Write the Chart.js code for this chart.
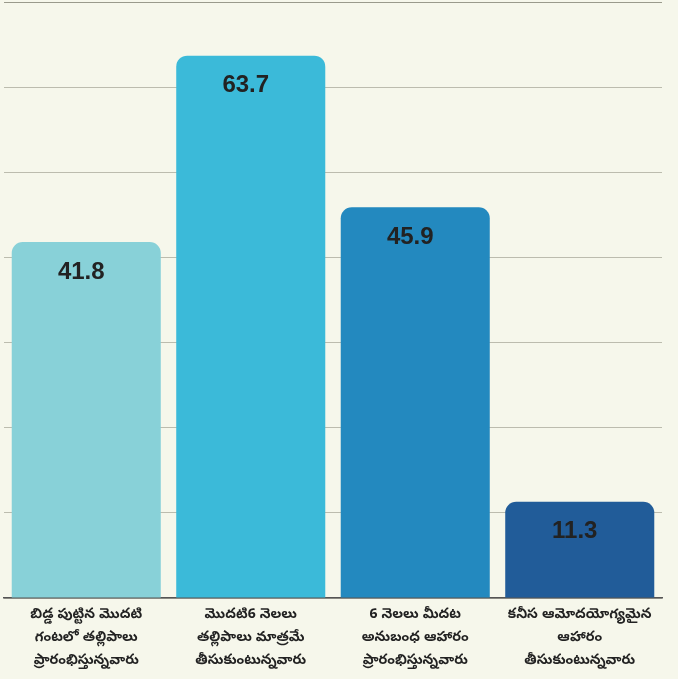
<!DOCTYPE html>
<html>
<head>
<meta charset="utf-8">
<script src="https://cdn.jsdelivr.net/npm/chart.js@4"></script>
<style>
  html, body { margin: 0; padding: 0; background: #f6f7eb; }
  #wrap { width: 678px; height: 679px; }
</style>
</head>
<body>
<div id="wrap"><canvas id="chart"></canvas></div>
<script>
// ── Data ──────────────────────────────────────────────────────────────────────
const categories = [
  ["బిడ్డ పుట్టిన మొదటి", "గంటలో తల్లిపాలు", "ప్రారంభిస్తున్నవారు"],
  ["మొదటి6 నెలలు", "తల్లిపాలు మాత్రమే", "తీసుకుంటున్నవారు"],
  ["6 నెలలు మీదట", "అనుబంధ ఆహారం", "ప్రారంభిస్తున్నవారు"],
  ["కనీస ఆమోదయోగ్యమైన", "ఆహారం", "తీసుకుంటున్నవారు"],
];
const values = [41.8, 63.7, 45.9, 11.3];
const barColors = ["#88d1d8", "#3bbad9", "#2389bf", "#215c99"];
const yTicks = [0, 10, 20, 30, 40, 50, 60, 70];

// ── Value labels inside the bars ──────────────────────────────────────────────
const valueLabels = {
  id: "valueLabels",
  afterDatasetsDraw(chart) {
    const ctx = chart.ctx;
    const meta = chart.getDatasetMeta(0);
    ctx.save();
    ctx.font = "bold 24px 'Liberation Sans', Arial, sans-serif";
    ctx.fillStyle = "#222";
    ctx.textAlign = "center";
    ctx.textBaseline = "middle";
    meta.data.forEach((bar, i) => {
      ctx.fillText(values[i].toFixed(1), bar.x - 5, bar.y + 30);
    });
    ctx.restore();
  },
};

new Chart(document.getElementById("chart").getContext("2d"), {
  type: "bar",
  data: {
    labels: categories,
    datasets: [{
      data: values,
      backgroundColor: barColors,
      borderRadius: { topLeft: 11, topRight: 11 },
      borderSkipped: "bottom",
      categoryPercentage: 0.906,
      barPercentage: 1,
    }],
  },
  options: {
    responsive: true,
    maintainAspectRatio: false,
    animation: false,
    layout: { padding: { top: 2, left: 4, right: 16, bottom: 0 } },
    plugins: { legend: { display: false }, tooltip: { enabled: false } },
    scales: {
      x: {
        afterFit: scale => { scale.height = 81; },
        grid: { display: false, drawTicks: false },
        border: { color: "#555", width: 1.5 },
        ticks: {
          color: "#222",
          font: { family: "'Noto Sans Telugu', 'Noto Sans', sans-serif", size: 14, weight: "bold", lineHeight: 1.64 },
          padding: 7,
          maxRotation: 0,
          autoSkip: false,
        },
      },
      y: {
        min: 0,
        max: 70,
        afterBuildTicks: axis => { axis.ticks = yTicks.map(v => ({ value: v })); },
        grid: { color: c => c.tick.value === 70 ? "#9a9a8c" : "#bcbcae", lineWidth: 1, drawTicks: false },
        border: { display: false },
        ticks: { display: false },
      },
    },
  },
  plugins: [valueLabels],
});
</script>
</body>
</html>
